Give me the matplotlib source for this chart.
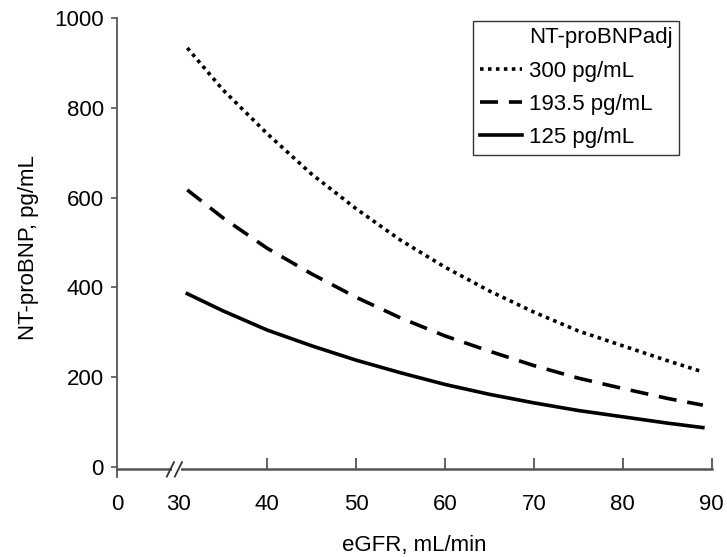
#!/usr/bin/env python3
"""
NT-proBNP vs eGFR curves for three adjusted NT-proBNP levels.
"""

import matplotlib
matplotlib.use('Agg')
import matplotlib.pyplot as plt

# values
egfr = [31, 35, 40, 45, 50, 55, 60, 65, 70, 75, 80, 85, 89]
bnp_300 = [933, 840, 742, 652, 575, 505, 445, 392, 345, 303, 270, 237, 212]
bnp_193 = [617, 555, 487, 430, 378, 332, 292, 258, 226, 198, 175, 153, 138]
bnp_125 = [386, 348, 305, 270, 238, 210, 184, 162, 143, 126, 112, 98, 88]

series_labels = ['300 pg/mL', '193.5 pg/mL', '125 pg/mL']
legend_title = 'NT-proBNPadj'

x_tick_vals = [0, 30, 40, 50, 60, 70, 80, 90]
y_tick_vals = [0, 200, 400, 600, 800, 1000]

# broken axis: 0 is drawn a bit left of 30
ZERO_POS = 23.1
AXIS_COLOR = '#555555'
FS = 16

plt.rcParams['font.family'] = ['Liberation Sans', 'DejaVu Sans']


def main():
    fig = plt.figure(figsize=(7.27, 5.57), dpi=100)
    ax = fig.add_axes([0.161, 0.1436, 0.979 - 0.161, 0.968 - 0.1436])

    ax.plot([], [], color='none', label=legend_title)
    ax.plot(egfr, bnp_300, color='black', lw=2.6, linestyle=(0, (1, 1.2)),
            label=series_labels[0])
    ax.plot(egfr, bnp_193, color='black', lw=2.6, linestyle=(0, (5, 3)),
            label=series_labels[1])
    ax.plot(egfr, bnp_125, color='black', lw=2.6, label=series_labels[2])

    ax.set_xlim(ZERO_POS, 90)
    ax.set_ylim(-22, 1000)

    # spines
    for s in ['top', 'right']:
        ax.spines[s].set_visible(False)
    ax.spines['left'].set_color(AXIS_COLOR)
    ax.spines['left'].set_linewidth(1.3)
    ax.spines['bottom'].set_color(AXIS_COLOR)
    ax.spines['bottom'].set_linewidth(1.8)
    ax.spines['bottom'].set_position(('data', -5))

    xpos = [ZERO_POS if v == 0 else v for v in x_tick_vals]
    ax.set_xticks(xpos)
    ax.set_xticklabels([str(v) for v in x_tick_vals])
    ax.set_yticks(y_tick_vals)
    ax.tick_params(axis='x', direction='in', length=8, width=1.3,
                   color=AXIS_COLOR, pad=18, labelsize=FS)
    ax.tick_params(axis='y', direction='out', length=4, width=1.2,
                   color=AXIS_COLOR, pad=5.5, labelsize=FS)
    xt = ax.xaxis.get_major_ticks()
    xt[0].tick1line.set_visible(False)
    xt[1].tick1line.set_visible(False)

    # break mark on the x axis
    ax.plot([29.3, 30.3], [-5, -5], color='white', lw=3, clip_on=False,
            zorder=5, solid_capstyle='butt')
    for xc in [29.1, 30.0]:
        ax.plot([xc - 0.4, xc + 0.4], [-21, 11], color='#333333', lw=1.3,
                clip_on=False, zorder=6)

    ax.set_xlabel('eGFR, mL/min', fontsize=FS, labelpad=14)
    ax.set_ylabel('NT-proBNP, pg/mL', fontsize=FS, labelpad=11)

    leg = ax.legend(loc='upper right', bbox_to_anchor=(0.945, 0.9935),
                    borderaxespad=0, fontsize=FS, frameon=True,
                    fancybox=False, handlelength=1.9, handletextpad=0.3,
                    labelspacing=0.55, borderpad=0.3)
    leg.get_frame().set_edgecolor('black')
    leg.get_frame().set_linewidth(1.0)

    plt.savefig('out.png', dpi=100)
    plt.close()


if __name__ == '__main__':
    main()
